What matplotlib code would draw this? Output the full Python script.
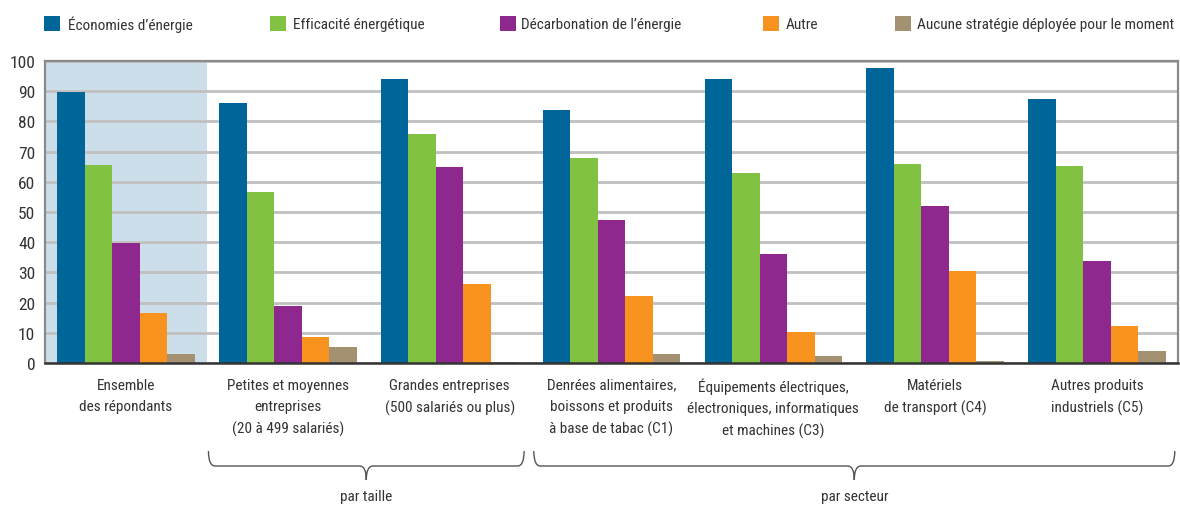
import matplotlib
matplotlib.use('Agg')
import matplotlib.pyplot as plt
from matplotlib import font_manager
from matplotlib.path import Path
from matplotlib.patches import PathPatch, Rectangle
import numpy as np

# chart values (percent)
groups = ['Ensemble\ndes répondants',
          'Petites et moyennes\nentreprises\n(20 à 499 salariés)',
          'Grandes entreprises\n(500 salariés ou plus)',
          'Denrées alimentaires,\nboissons et produits\nà base de tabac (C1)',
          'Équipements électriques,\nélectroniques, informatiques\net machines (C3)',
          'Matériels\nde transport (C4)',
          'Autres produits\nindustriels (C5)']
series = ['Économies d\u2019énergie', 'Efficacité énergétique',
          'Décarbonation de l\u2019énergie', 'Autre',
          'Aucune stratégie déployée pour le moment']
economies = [89.8, 86.2, 94.0, 83.8, 94.0, 97.7, 87.4]
efficacite = [65.6, 56.6, 75.8, 67.9, 62.9, 65.9, 65.2]
decarbonation = [39.8, 18.9, 64.9, 47.4, 36.1, 52.0, 33.8]
autre = [16.5, 8.6, 26.2, 22.2, 10.3, 30.5, 12.3]
aucune = [3.0, 5.3, 0.4, 3.0, 2.3, 0.7, 4.0]
yticks = [0, 10, 20, 30, 40, 50, 60, 70, 80, 90, 100]
brace_labels = ['par taille', 'par secteur']

colors = ['#00669a', '#82c242', '#8e278e', '#f7931e', '#a39171']
values = [economies, efficacite, decarbonation, autre, aucune]


def pick_font():
    # look for a narrow face, the reference uses a condensed sans
    wanted = ['Liberation Sans Narrow', 'Roboto Condensed', 'Noto Sans Condensed',
              'Open Sans Condensed', 'DejaVu Sans Condensed']
    names = {}
    for f in font_manager.fontManager.ttflist:
        names.setdefault(f.name, []).append(f)
    for w in wanted:
        if w in names:
            return w, None
    for n, fl in names.items():
        if 'Narrow' in n or 'Condensed' in n:
            return n, None
    for n in ['Noto Sans', 'Roboto', 'Open Sans']:
        for f in names.get(n, []):
            if f.stretch in ('condensed', 'semi-condensed', 'extra-condensed', 375, 437):
                return n, f.stretch
    return None, None


font, stretch = pick_font()
if font:
    plt.rcParams['font.family'] = [font, 'DejaVu Sans']
    if stretch is not None:
        plt.rcParams['font.stretch'] = stretch
    fs = 11
    fs_y = 12.5
else:
    plt.rcParams['font.family'] = ['Roboto', 'DejaVu Sans']
    fs = 9.5
    fs_y = 11
txt = '#333333'

W, H = 1180, 506
fig = plt.figure(figsize=(W / 100, H / 100), dpi=100)
ax = fig.add_axes([45 / W, 1 - 364 / H, (1178 - 45) / W, (364 - 62) / H])

x = np.arange(len(groups))
bw = 0.17
ax.axvspan(-0.5, 0.5, color='#cddeeb', zorder=0, lw=0)
for i, (vals, c) in enumerate(zip(values, colors)):
    ax.bar(x + (i - 2) * bw, vals, bw, color=c, zorder=3, lw=0, label=series[i])

ax.set_xlim(-0.5, 6.5)
ax.set_ylim(0, 100)
ax.set_yticks(yticks)
ax.yaxis.grid(True, color='#c0c0c0', lw=2.0, zorder=1)
ax.set_axisbelow(True)
ax.tick_params(axis='y', length=0, pad=7, labelsize=fs_y, labelcolor=txt)
ax.set_xticks(x)
ax.set_xticklabels(groups, fontsize=fs, color=txt, linespacing=1.65)
ax.tick_params(axis='x', length=0, pad=10.5)
for s in ['top', 'right', 'left']:
    ax.spines[s].set_color('#8a8a8a')
    ax.spines[s].set_linewidth(1.6)
ax.spines['bottom'].set_color('#333333')
ax.spines['bottom'].set_linewidth(1.8)
ax.spines['bottom'].set_zorder(4)

# braces under the group labels
tr = ax.get_xaxis_transform()


def yax(ypix):
    return (364 - ypix) / (364 - 62)


def brace(x0, x1, label):
    xc = (x0 + x1) / 2
    d = 0.04
    yt, yl, yp = yax(452), yax(467), yax(481)
    verts = [(x0, yt), (x0, yl), (x0 + d, yl),
             (xc - d, yl),
             (xc, yl), (xc, yp),
             (xc, yl), (xc + d, yl),
             (x1 - d, yl),
             (x1, yl), (x1, yt)]
    codes = [Path.MOVETO, Path.CURVE3, Path.CURVE3,
             Path.LINETO,
             Path.CURVE3, Path.CURVE3,
             Path.CURVE3, Path.CURVE3,
             Path.LINETO,
             Path.CURVE3, Path.CURVE3]
    ax.add_patch(PathPatch(Path(verts, codes), transform=tr, clip_on=False,
                           fill=False, edgecolor='#555555', lw=1.0))
    ax.text(xc, yax(497), label, transform=tr, ha='center', va='center',
            fontsize=fs, color=txt)


brace(0.51, 2.46, brace_labels[0])
brace(2.52, 6.48, brace_labels[1])

# legend along the top
legend_pos = [(44, 68), (270, 293), (500, 521), (763, 786), (895, 917)]
for (sx, tx), c, name in zip(legend_pos, colors, series):
    fig.patches.append(Rectangle((sx / W, 1 - 32 / H), 16 / W, 15 / H,
                                 transform=fig.transFigure, color=c, lw=0))
    fig.text(tx / W, 1 - 25 / H, name, ha='left', va='center',
             fontsize=fs, color=txt)

fig.savefig('out.png', dpi=100)
